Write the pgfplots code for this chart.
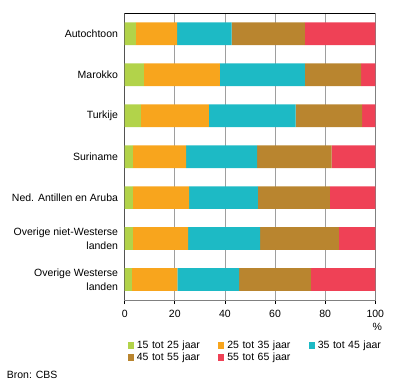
\documentclass[border=0pt]{standalone}
\usepackage{pgfplots}
\pgfplotsset{compat=1.18}
\usepackage{fontspec}
\setmainfont{Liberation Sans}
\definecolor{cA}{HTML}{B2D34A}
\definecolor{cB}{HTML}{F8A51D}
\definecolor{cC}{HTML}{1DBAC5}
\definecolor{cD}{HTML}{B9852F}
\definecolor{cE}{HTML}{EF4156}
\pgfplotstableread{
y a b c d e
0 4.5 16.4 21.8 29.2 28.1
1 7.7 30.3 33.9 22.4 5.7
2 6.5 27.1 34.6 26.5 5.3
3 3.3 21.2 28.3 29.8 17.4
4 3.3 22.4 27.4 28.8 18.1
5 3.3 22.0 28.7 31.5 14.5
6 2.9 18.1 24.7 28.6 25.7
}\data
\begin{document}
\fontsize{10.5bp}{14bp}\selectfont
\begin{tikzpicture}
\path[use as bounding box] (-124.7bp,-87bp) rectangle (271.3bp,300bp);
\begin{axis}[
  at={(0,0)}, anchor=south west,
  scale only axis, width=250.6bp, height=286.7bp,
  xbar stacked, bar width=22.7bp,
  xmin=0, xmax=100, ymin=-0.5, ymax=6.5, y dir=reverse,
  ytick={0,...,6},
  yticklabels={Autochtoon,Marokko,Turkije,Suriname,Ned. Antillen en Aruba,{Overige niet-Westerse\\landen},{Overige Westerse\\landen}},
  yticklabel style={align=right, font=\fontsize{10.5bp}{14bp}\selectfont, inner xsep=0pt, xshift=-2.5bp},
  ytick style={draw=none},
  xtick={0,20,...,100},
  xtick pos=left,
  tick align=outside, major tick length=4bp,
  xtick style={black, line width=0.8bp},
  xticklabel style={font=\fontsize{10.5bp}{12bp}\selectfont, yshift=-2.5bp},
  /pgf/number format/assume math mode=true,
  xmajorgrids, grid style={color=black!38, line width=0.8bp},
  axis line style={black!50, line width=0.8bp},
  every axis plot/.append style={draw=none},
  legend columns=3,
  legend style={draw=none, fill=none, at={(0.012,-0.135)}, anchor=north west,
    inner sep=0pt, font=\fontsize{10.5bp}{12bp}\selectfont,
    nodes={text width=78.5bp, align=left, inner xsep=3bp, inner ysep=1.7pt},
    row sep=0bp},
  legend image code/.code={\fill[#1,draw=none] (0bp,-3.5bp) rectangle (6bp,3.5bp);},
]
\addplot[fill=cA] table[x=a,y=y]{\data};
\addplot[fill=cB] table[x=b,y=y]{\data};
\addplot[fill=cC] table[x=c,y=y]{\data};
\addplot[fill=cD] table[x=d,y=y]{\data};
\addplot[fill=cE] table[x=e,y=y]{\data};
\legend{15 tot 25 jaar,25 tot 35 jaar,35 tot 45 jaar,45 tot 55 jaar,55 tot 65 jaar}
\draw[black, line width=0.8bp] (rel axis cs:0,0) -- (rel axis cs:0,1);
\draw[black, line width=0.8bp] (rel axis cs:0,1) -- (rel axis cs:1,1);
\end{axis}
\node[anchor=center, inner sep=0pt] at (252.5bp,-27bp) {\%};
\node[anchor=west, inner sep=0pt] at (-118bp,-75bp) {Bron: CBS};
\end{tikzpicture}
\end{document}
